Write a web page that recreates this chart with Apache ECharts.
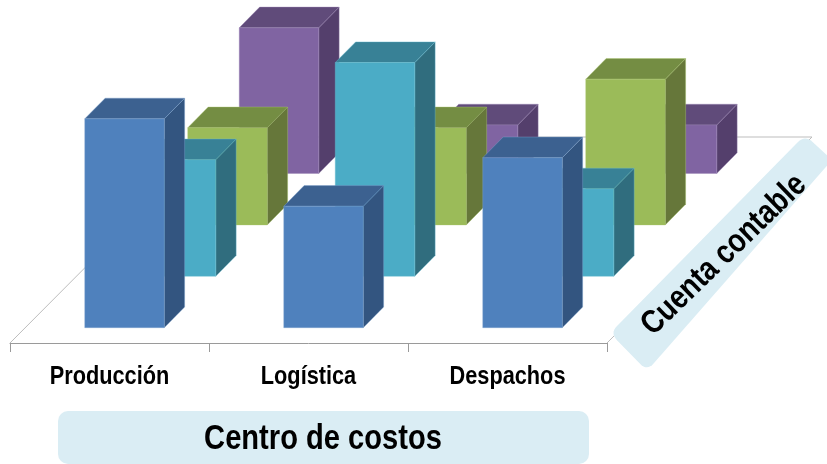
<!DOCTYPE html>
<html><head><meta charset="utf-8">
<style>html,body{margin:0;padding:0;background:#fff}#c{width:827px;height:464px}</style>
<script src="https://cdn.jsdelivr.net/npm/echarts@6/dist/echarts.min.js"></script>
</head><body><div id="c"></div>
<script>
const categories = ['Producción', 'Logística', 'Despachos'];
const serie1 = [4.3, 2.5, 3.5];
const serie2 = [2.4, 4.4, 1.8];
const serie3 = [2, 2, 3];
const serie4 = [3, 1, 1];
const xTitle = 'Centro de costos';
const depthTitle = 'Cuenta contable';

const font = '"Liberation Sans", Arial, sans-serif';
const squeeze = 0.82;
const rowDx = 51.5, rowDy = -51.4, firstDx = 15, firstDy = -15.3;
const barW = 79.5, capDx = 20.4, capDy = -20.7;
const floorDx = 205, floorDy = -206;

function roundedPoly(corners, r) {
  const pts = [], n = corners.length;
  corners.forEach((c, i) => {
    const rad = c[2] === undefined ? r : c[2];
    const p = corners[(i + n - 1) % n], q = corners[(i + 1) % n];
    const towards = (a) => {
      const d = Math.hypot(a[0] - c[0], a[1] - c[1]);
      return [c[0] + (a[0] - c[0]) * rad / d, c[1] + (a[1] - c[1]) * rad / d];
    };
    const s = towards(p), e = towards(q);
    for (let k = 0; k <= 8; k++) {
      const u = k / 8, v = 1 - u;
      pts.push([v * v * s[0] + 2 * u * v * c[0] + u * u * e[0], v * v * s[1] + 2 * u * v * c[1] + u * u * e[1]]);
    }
  });
  return pts;
}

function barSeries(name, data, row, c) {
  return {
    type: 'custom', name, data: data.map((v, i) => [i, v]), z: 5 - row, clip: false,
    renderItem(params, api) {
      const cat = api.value(0), val = api.value(1);
      const b = api.coord([cat, 0]), t = api.coord([cat, val]);
      const dx = firstDx + rowDx * row, dy = firstDy + rowDy * row;
      const x0 = b[0] + dx - barW / 2, x1 = x0 + barW;
      const yb = b[1] + dy, yt = t[1] + dy;
      const poly = (pts, fill) => ({
        type: 'polygon', shape: { points: pts },
        style: { fill, stroke: c.edge, lineWidth: 0.4, lineJoin: 'round' }
      });
      return { type: 'group', children: [
        poly([[x1, yb], [x1 + capDx, yb + capDy], [x1 + capDx, yt + capDy], [x1, yt]], c.side),
        poly([[x0, yt], [x1, yt], [x1 + capDx, yt + capDy], [x0 + capDx, yt + capDy]], c.top),
        poly([[x0, yb], [x1, yb], [x1, yt], [x0, yt]], c.front)
      ]};
    }
  };
}

const option = {
  animation: false,
  backgroundColor: '#fff',
  grid: { left: 10, width: 597, top: 3, height: 340 },
  xAxis: {
    type: 'category', data: categories, boundaryGap: true,
    axisLine: { show: true, lineStyle: { color: '#9A9A9A', width: 1 } },
    axisTick: { show: true, length: 9, lineStyle: { color: '#9A9A9A', width: 1 } },
    axisLabel: { show: false }
  },
  yAxis: { type: 'value', min: 0, max: 7, show: false },
  series: [
    {
      type: 'custom', data: [[0, 0]], z: 1, clip: false, silent: true,
      renderItem(params) {
        const g = params.coordSys;
        const xl = g.x, xr = g.x + g.width, yb = g.y + g.height;
        const style = { stroke: '#BDBDBD', lineWidth: 1, fill: null };
        return { type: 'polyline', shape: { points: [
          [xl, yb], [xl + floorDx, yb + floorDy],
          [xr + floorDx, yb + floorDy], [xr, yb]
        ] }, style };
      }
    },
    {
      type: 'custom', data: categories.map((c, i) => [i, 0]), z: 6, clip: false, silent: true,
      renderItem(params, api) {
        const p = api.coord([api.value(0), 0]);
        return { type: 'text', x: p[0], y: p[1] + 34, scaleX: squeeze, style: {
          text: categories[params.dataIndex], fill: '#000', font: 'bold 26.5px ' + font,
          align: 'center', verticalAlign: 'middle' } };
      }
    },
    barSeries('Serie 4', serie4, 3, { front: '#8064A2', top: '#604B7A', side: '#543F6C', edge: '#9C86B6' }),
    barSeries('Serie 3', serie3, 2, { front: '#9BBB59', top: '#748D43', side: '#66773A', edge: '#A8C46F' }),
    barSeries('Serie 2', serie2, 1, { front: '#4BACC6', top: '#388196', side: '#306D7E', edge: '#6BBDD2' }),
    barSeries('Serie 1', serie1, 0, { front: '#4F81BD', top: '#3C6190', side: '#335580', edge: '#7FA3CE' })
  ],
  graphic: [
    { type: 'rect', z: 10, shape: { x: 58, y: 411, width: 531, height: 53, r: 10 }, style: { fill: '#DAEDF4' } },
    { type: 'text', z: 11, x: 323, y: 439, scaleX: squeeze, style: { text: xTitle, fill: '#000', font: 'bold 35.5px ' + font, align: 'center', verticalAlign: 'middle' } },
    { type: 'polygon', z: 10, shape: { points: roundedPoly([[610, 333], [805, 135], [832, 160, 1], [647, 371]], 10) }, style: { fill: '#DAEDF4' } },
    { type: 'text', z: 11, x: 724, y: 255, rotation: 0.77, scaleX: 0.84, style: { text: depthTitle, fill: '#000', font: 'bold 33px ' + font, align: 'center', verticalAlign: 'middle' } }
  ]
};
echarts.init(document.getElementById('c'), null, { renderer: 'canvas' }).setOption(option);
</script></body></html>
